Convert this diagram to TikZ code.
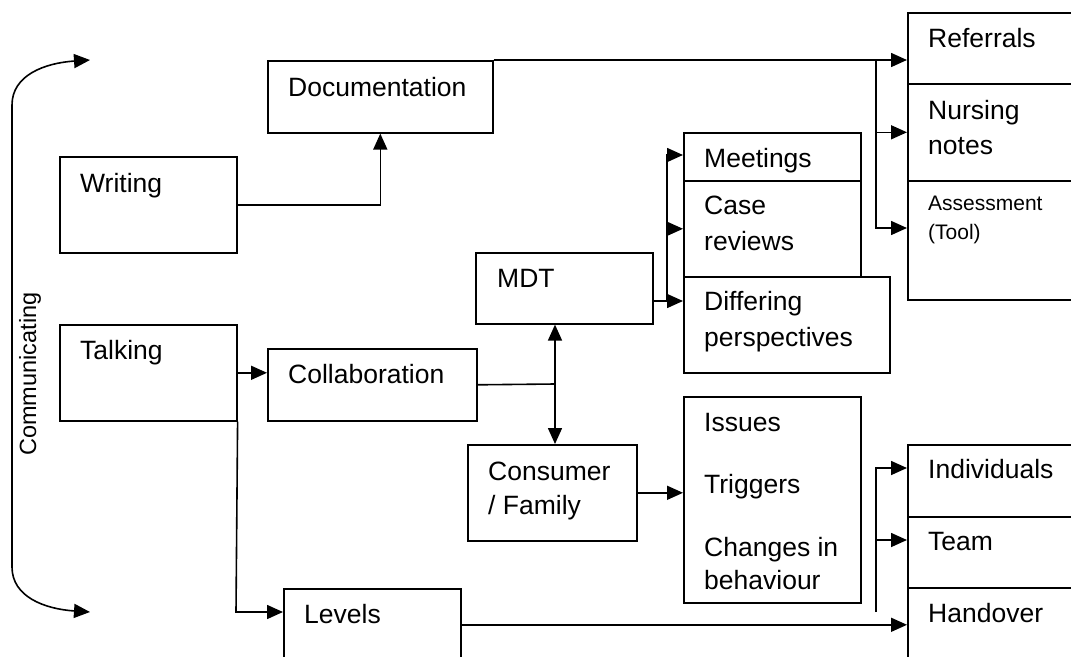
\documentclass[tikz,border=0pt]{standalone}
\usepackage{fontspec}
\setmainfont{Liberation Sans}
\usetikzlibrary{arrows.meta}
\newcommand\lblfont{\fontsize{26.5}{32}\selectfont}
\newcommand\smallfont{\fontsize{21}{25}\selectfont}
\newcommand\sidefont{\fontsize{23.5}{28}\selectfont}
\begin{document}
\begin{tikzpicture}[x=1pt,y=-1pt,
  box/.style={draw, line width=1.6pt, inner sep=0pt, anchor=north west},
  txt/.style={inner sep=0pt, anchor=base west, font=\lblfont},
  smalltxt/.style={inner sep=0pt, anchor=base west, font=\smallfont},
  link/.style={line width=1.6pt},
  arr/.style={link, -{Triangle[length=16pt,width=14pt]}},
  dblarr/.style={link, {Triangle[length=16pt,width=14pt]}-{Triangle[length=16pt,width=14pt]}}]
\useasboundingbox (0,0) rectangle (1071,656);

% boxes
\node[box, minimum width=225pt, minimum height=72pt] (doc) at (267,60) {};
\node[box, minimum width=177pt, minimum height=96pt] (writing) at (59,156) {};
\node[box, minimum width=177pt, minimum height=96pt] (talking) at (59,324) {};
\node[box, minimum width=209pt, minimum height=72pt] (collab) at (267,348) {};
\node[box, minimum width=177pt, minimum height=72pt] (levels) at (283,588) {};
\node[box, minimum width=177pt, minimum height=71pt] (mdt) at (475,252) {};
\node[box, minimum width=169pt, minimum height=96pt] (consumer) at (467,444) {};
\node[box, minimum width=177pt, minimum height=48pt] (meetings) at (683,132) {};
\node[box, minimum width=177pt, minimum height=96pt] (casereviews) at (683,180) {};
\node[box, minimum width=206pt, minimum height=96pt] (differing) at (683,276) {};
\node[box, minimum width=177pt, minimum height=206pt] (issues) at (683,396) {};
\node[box, minimum width=183pt, minimum height=71pt] (referrals) at (907,12) {};
\node[box, minimum width=183pt, minimum height=97pt] (nursing) at (907,83) {};
\node[box, minimum width=183pt, minimum height=119pt] (assessment) at (907,180) {};
\node[box, minimum width=183pt, minimum height=72pt] (individuals) at (907,444) {};
\node[box, minimum width=183pt, minimum height=71pt] (team) at (907,516) {};
\node[box, minimum width=183pt, minimum height=72pt] (handover) at (907,587) {};

% labels
\node[txt] (docT) at (288,96) {Documentation};
\node[txt] (wriT) at (80,192) {Writing};
\node[txt] (talT) at (80,359) {Talking};
\node[txt] (colT) at (288,383) {Collaboration};
\node[txt] (levT) at (304,623) {Levels};
\node[txt] (mdtT) at (497,287) {MDT};
\node[txt] (conT1) at (488,480) {Consumer};
\node[txt] (conT2) at (488,514) {/ Family};
\node[txt] (meeT) at (704,167) {Meetings};
\node[txt] (casT1) at (704,214) {Case};
\node[txt] (casT2) at (704,250) {reviews};
\node[txt] (difT1) at (704,310) {Differing};
\node[txt] (difT2) at (704,346) {perspectives};
\node[txt] (issT) at (704,431) {Issues};
\node[txt] (trgT) at (704,493) {Triggers};
\node[txt] (chgT1) at (704,556) {Changes in};
\node[txt] (chgT2) at (704,589) {behaviour};
\node[txt] (refT) at (928,47) {Referrals};
\node[txt] (nurT1) at (928,119) {Nursing};
\node[txt] (nurT2) at (928,154) {notes};
\node[smalltxt] (assT1) at (928,210) {Assessment};
\node[smalltxt] (assT2) at (928,239) {(Tool)};
\node[txt] (indT) at (928,478) {Individuals};
\node[txt] (teaT) at (928,550) {Team};
\node[txt] (hanT) at (928,622) {Handover};
\node[inner sep=0pt, anchor=base, rotate=90, font=\sidefont] (commT) at (36,374) {Communicating};

% side bracket with arrows at both ends
\coordinate (cTop) at (90,60);
\coordinate (cBot) at (90,612);
\draw[dblarr] (cTop) .. controls (45,63) and (12,75) .. (12,105)
  -- (12,567) .. controls (12,597) and (45,609) .. (cBot);

% writing to documentation
\draw[arr] (writing.east) -| (doc.south);

% documentation fan-out
\coordinate (busD) at (876,60);
\coordinate (busDend) at (876,228);
\draw[arr] (doc.north east) -- (doc.north east -| referrals.west);
\draw[arr] (busD) |- (nursing.west);
\draw[arr] (busD) -- (busDend) -- (busDend -| assessment.west);

% talking branches
\draw[arr] (talking.east) -- (talking.east -| collab.west);
\coordinate (talkLow) at (236,612);
\draw[arr] (talking.south east) -- (talkLow) -- (talkLow -| levels.west);

% levels to handover
\draw[arr] (levels.east) -- (levels.east -| handover.west);

% collaboration junction
\coordinate (junc) at (555,384);
\draw[link] (collab.east) -- (junc);
\draw[dblarr] (mdt.south -| junc) -- (consumer.north -| junc);

% MDT fan-out
\coordinate (mdtOut) at (652,301);
\coordinate (mdtBus) at (667,301);
\coordinate (mdtTop) at (667,155);
\draw[arr] (mdtOut) -- (mdtOut -| differing.west);
\draw[arr] (mdtBus) -- (mdtTop) -- (mdtTop -| meetings.west);
\draw[arr] (mdtBus |- casereviews.west) -- (casereviews.west);

% consumer to issues
\draw[arr] (consumer.east) -- (consumer.east -| issues.west);

% right lower bus
\coordinate (busL) at (876,612);
\coordinate (busLtop) at (876,468);
\draw[arr] (busL) -- (busLtop) -- (busLtop -| individuals.west);
\draw[arr] (busL |- 0,540) -- (team.west |- 0,540);
\end{tikzpicture}
\end{document}
